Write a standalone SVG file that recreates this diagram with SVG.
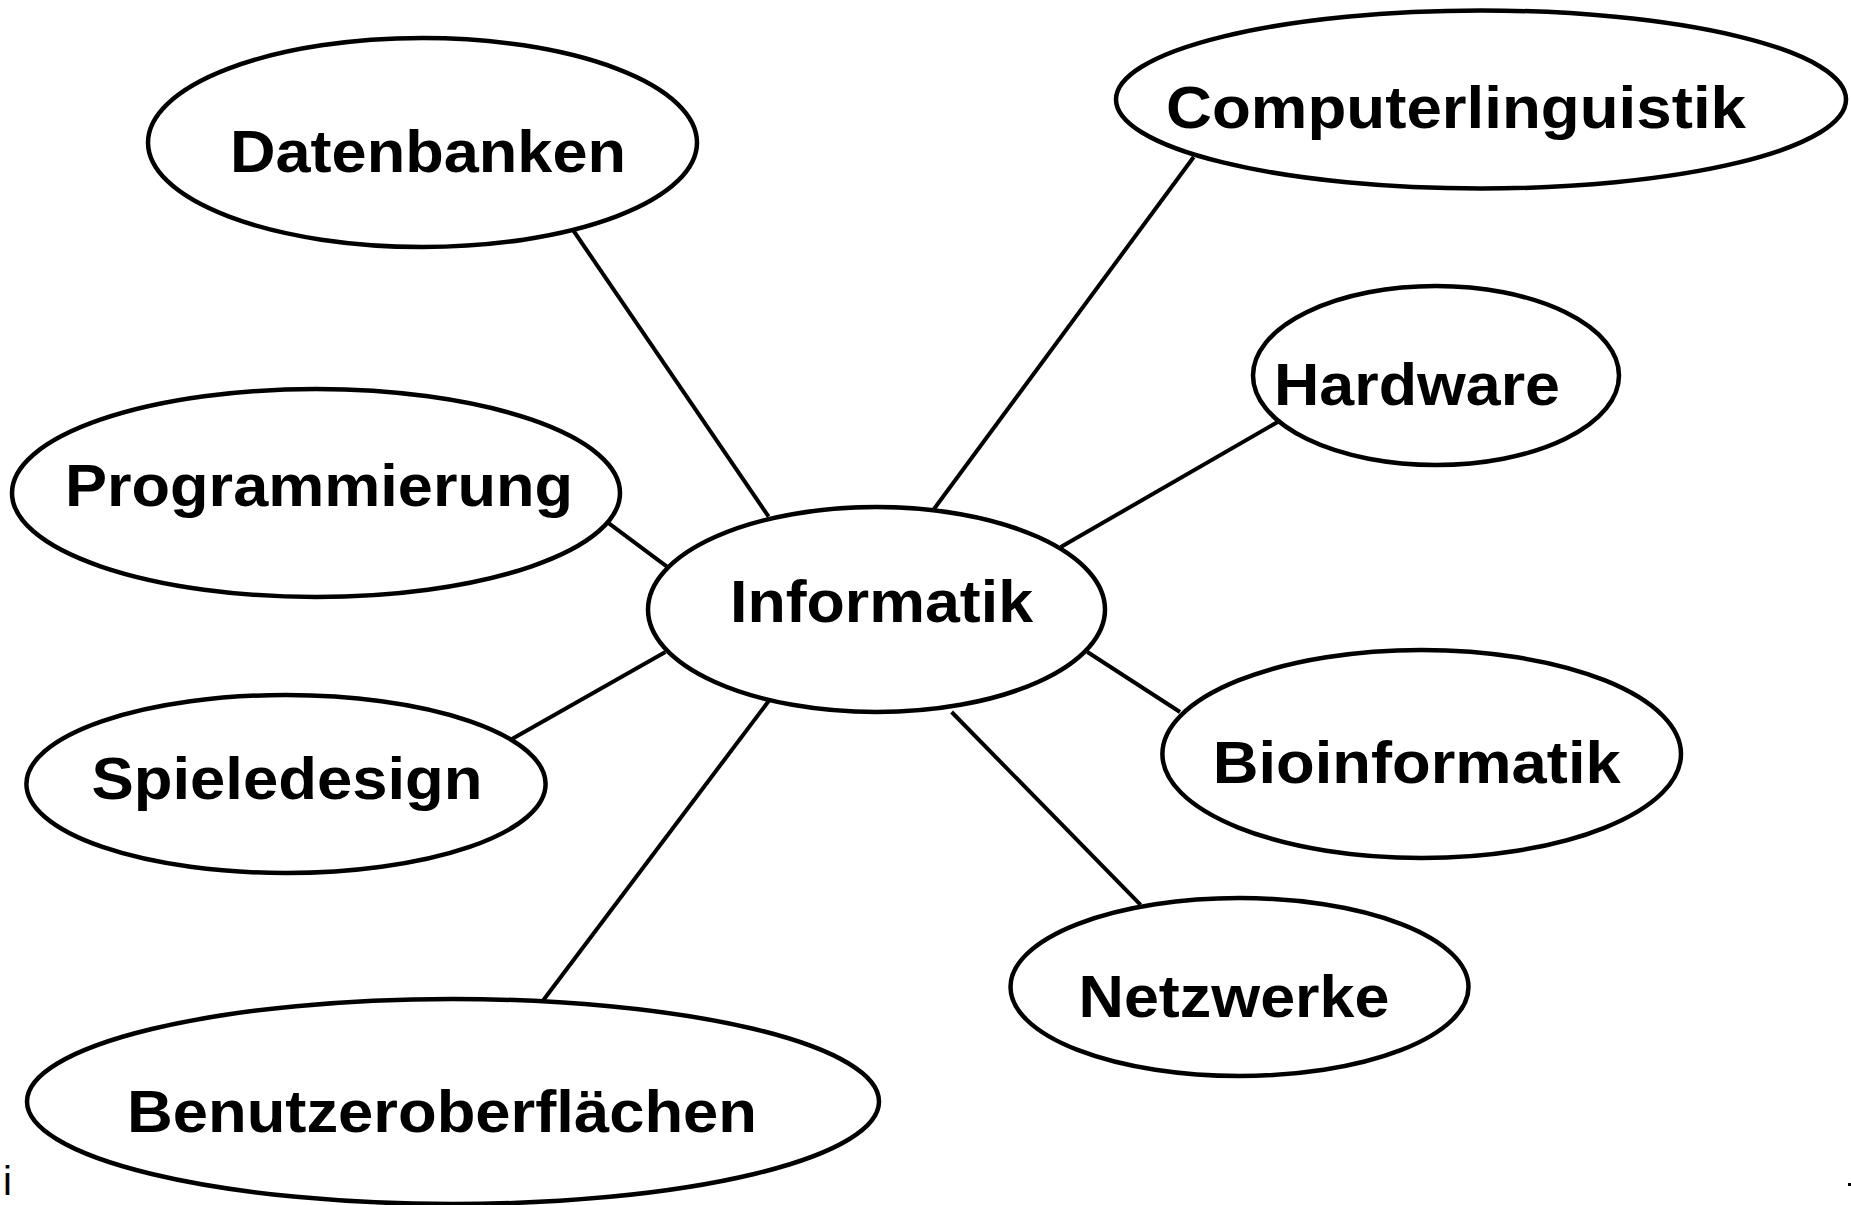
<svg xmlns="http://www.w3.org/2000/svg" width="1851" height="1205" viewBox="0 0 1851 1205">
<style>
.n ellipse{fill:#fff;stroke:#000;stroke-width:4.5}
.n text{font-family:"Liberation Sans",Arial,sans-serif;font-weight:bold;font-size:60px;fill:#000;text-anchor:middle}
.c line{stroke:#000;stroke-width:4}
</style>
<rect width="1851" height="1205" fill="#fff"/>
<g id="connectors" class="c">
<line x1="573" y1="230" x2="768.6" y2="516.6"/>
<line x1="1193.7" y1="157" x2="934" y2="509"/>
<line x1="1279.4" y1="421" x2="1060.8" y2="547"/>
<line x1="607.6" y1="522.4" x2="666.6" y2="566.4"/>
<line x1="512" y1="738.9" x2="665.4" y2="652"/>
<line x1="542.7" y1="1001" x2="769.8" y2="699.5"/>
<line x1="1087.4" y1="652" x2="1180" y2="712"/>
<line x1="951.6" y1="712" x2="1140.6" y2="904.8"/>
</g>
<g id="informatik" class="n"><ellipse cx="876.5" cy="609.5" rx="228.5" ry="102.5"/><text x="881.5" y="622" textLength="303" lengthAdjust="spacingAndGlyphs">Informatik</text></g>
<g id="datenbanken" class="n"><ellipse cx="422.5" cy="142.5" rx="274.5" ry="104.5"/><text x="428" y="172" textLength="396" lengthAdjust="spacingAndGlyphs">Datenbanken</text></g>
<g id="programmierung" class="n"><ellipse cx="316" cy="493" rx="304" ry="104"/><text x="319" y="506" textLength="508" lengthAdjust="spacingAndGlyphs">Programmierung</text></g>
<g id="computerlinguistik" class="n"><ellipse cx="1481" cy="99.5" rx="365" ry="89"/><text x="1456" y="128" textLength="580" lengthAdjust="spacingAndGlyphs">Computerlinguistik</text></g>
<g id="hardware" class="n"><ellipse cx="1436" cy="375.5" rx="183" ry="89.5"/><text x="1417" y="405" textLength="286" lengthAdjust="spacingAndGlyphs">Hardware</text></g>
<g id="spieledesign" class="n"><ellipse cx="286" cy="784" rx="259.6" ry="89"/><text x="287" y="799" textLength="391" lengthAdjust="spacingAndGlyphs">Spieledesign</text></g>
<g id="bioinformatik" class="n"><ellipse cx="1421.7" cy="754" rx="259.3" ry="104"/><text x="1416.7" y="783" textLength="408" lengthAdjust="spacingAndGlyphs">Bioinformatik</text></g>
<g id="netzwerke" class="n"><ellipse cx="1239.5" cy="987" rx="229" ry="89"/><text x="1234" y="1017" textLength="311" lengthAdjust="spacingAndGlyphs">Netzwerke</text></g>
<g id="benutzeroberflaechen" class="n"><ellipse cx="453" cy="1101.5" rx="426" ry="102.5"/><text x="442" y="1132" textLength="630" lengthAdjust="spacingAndGlyphs">Benutzeroberflächen</text></g>
<text x="3" y="1195" font-family="Liberation Sans, Arial, sans-serif" font-size="40" fill="#000">i</text>
<rect x="1848" y="1183" width="3" height="3" fill="#000"/>
</svg>
